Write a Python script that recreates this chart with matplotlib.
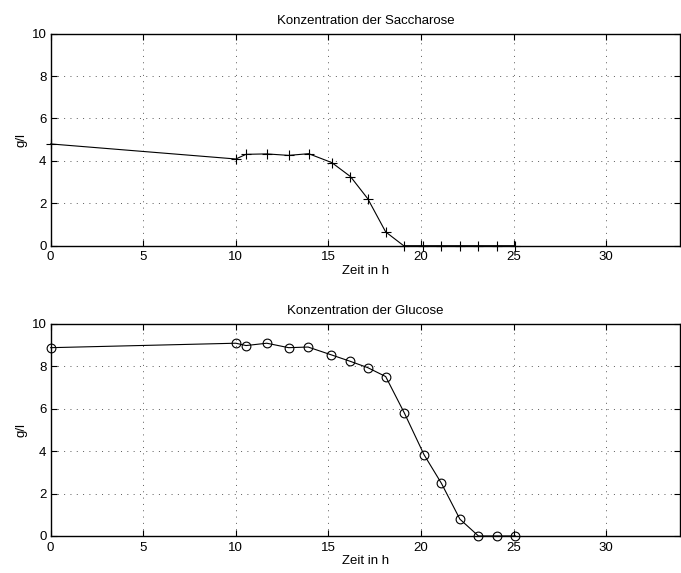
import numpy as np
import matplotlib.pyplot as plt

plt.rcParams['font.family'] = ['Liberation Sans', 'DejaVu Sans']
plt.rcParams['font.size'] = 9.5

# sucrose (Saccharose) measurements
t_sac = [0, 10.0, 10.55, 11.67, 12.85, 13.93, 15.18, 16.19, 17.12, 18.09,
         19.06, 20.1, 21.07, 22.08, 23.08, 24.09, 25.09]
c_sac = [4.8, 4.09, 4.31, 4.33, 4.26, 4.34, 3.92, 3.26, 2.22, 0.65,
         0, 0, 0, 0, 0, 0, 0]

# glucose measurements
t_glc = [0, 10.0, 10.55, 11.67, 12.85, 13.9, 15.16, 16.17, 17.12, 18.09,
         19.1, 20.16, 21.1, 22.1, 23.1, 24.1, 25.1]
c_glc = [8.87, 9.08, 8.97, 9.08, 8.87, 8.9, 8.53, 8.23, 7.93, 7.51,
         5.79, 3.83, 2.48, 0.79, 0, 0, 0]

xticks = [0, 5, 10, 15, 20, 25, 30]
yticks = [0, 2, 4, 6, 8, 10]

fig = plt.figure(figsize=(6.81, 5.73), dpi=100)
ax1 = fig.add_axes([0.0744, 0.5712, 0.9246, 0.37])
ax2 = fig.add_axes([0.0744, 0.0646, 0.9246, 0.3705])


def style(ax, title):
    ax.set_xlim(0, 34)
    ax.set_ylim(0, 10)
    ax.set_xticks(xticks)
    ax.set_yticks(yticks)
    ax.tick_params(direction='in', length=4, width=0.8, top=True, right=True)
    ax.tick_params(axis='x', pad=4)
    ax.tick_params(axis='y', pad=3)
    ax.grid(True, linestyle=(0, (1, 5.5)), color='0.35', linewidth=0.7)
    for s in ax.spines.values():
        s.set_linewidth(1.0)
    ax.set_title(title, fontsize=9.5, pad=7)
    ax.set_xlabel('Zeit in h', labelpad=1)
    ax.set_ylabel('g/l', labelpad=3)


ax1.plot(t_sac, c_sac, color='black', linewidth=0.8, marker='+',
         markersize=7, markeredgewidth=0.8, clip_on=False, zorder=5)
style(ax1, 'Konzentration der Saccharose')

ax2.plot(t_glc, c_glc, color='black', linewidth=0.8, marker='o',
         markersize=6.3, markerfacecolor='none', markeredgewidth=0.8,
         clip_on=False, zorder=5)
style(ax2, 'Konzentration der Glucose')

fig.savefig('out.png', dpi=100)
